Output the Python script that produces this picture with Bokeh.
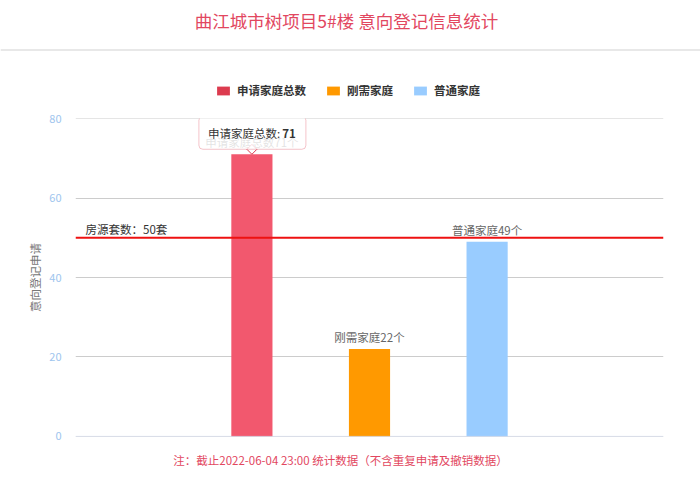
import math
from bokeh.plotting import figure
from bokeh.layouts import column, row
from bokeh.models import (Range1d, FixedTicker, Label, Span, BoxAnnotation, Legend,
                          LegendItem, ColumnDataSource)
from bokeh.core.properties import value
from bokeh.embed import file_html
from bokeh.resources import INLINE

# ---------------- data ----------------
title_text = "曲江城市树项目5#楼 意向登记信息统计"
note_text = "注：截止2022-06-04 23:00 统计数据（不含重复申请及撤销数据）"
y_title = "意向登记申请"
categories = ["申请家庭总数", "刚需家庭", "普通家庭"]
counts = [71, 22, 49]
unit = "个"
slot_count = 5          # x slots; first and last slot are empty
y_ticks = [0, 20, 40, 60, 80]
supply = 50
supply_label = "房源套数：50套"
bar_colors = ["#f2586e", "#ff9900", "#99ccff"]
legend_colors = ["#dc3b4f", "#ff9900", "#99ccff"]

# ---------------- layout ----------------
W = 700
L, R, T, B = 75, 37, 10, 8
FH = 318
FW = W - L - R
MAIN_H = T + FH + B
TITLE_H, LEG_H = 51, 57
BOT_H = 484 - TITLE_H - LEG_H - MAIN_H
FONT = "Noto Sans CJK SC"
TITLE_COLOR = "#e2475f"


def blank_fig(h, left=L, right=R):
    # header/footer strips; their x range is expressed in page pixels
    f = figure(width=W, height=h, output_backend="svg", toolbar_location=None,
               x_range=Range1d(left, W - right), y_range=Range1d(h, 0),
               x_axis_type=None, y_axis_type=None,
               min_border_left=left, min_border_right=right,
               min_border_top=0, min_border_bottom=0)
    f.outline_line_color = None
    f.xgrid.visible = False
    f.ygrid.visible = False
    f.background_fill_color = "white"
    f.border_fill_color = "white"
    return f


# ---- title strip with full-width separator ----
ttl = blank_fig(TITLE_H, left=0, right=0)
ttl.add_layout(Label(x=346, y=20, text=title_text, text_align="center",
                     text_baseline="middle", text_font=FONT, text_font_size="17.5px",
                     text_color=TITLE_COLOR))
ttl.add_layout(Span(location=49.5, dimension="width", line_color="#e8e8e8", line_width=2))

# ---- legend strip ----
leg = blank_fig(LEG_H)
items = []
for c, col in zip(categories, legend_colors):
    r = leg.vbar(x=[L], top=[0], bottom=[0], width=0, fill_color=col, line_color=None)
    items.append(LegendItem(label=c, renderers=[r]))
legend = Legend(items=items, location=(215 - L, 10), orientation="horizontal",
                glyph_width=16, glyph_height=11, label_standoff=6, spacing=19,
                padding=0, margin=0, border_line_color=None, background_fill_alpha=0,
                label_text_font=FONT, label_text_font_size="11.5px",
                label_text_font_style="bold", label_text_color="#333333")
leg.add_layout(legend)

# ---- main chart ----
pad = 0.02
p = figure(width=W, height=MAIN_H, output_backend="svg", toolbar_location=None,
           x_range=Range1d(0, slot_count),
           y_range=Range1d(y_ticks[0] - pad, y_ticks[-1] + pad),
           min_border_left=L, min_border_right=R, min_border_top=T, min_border_bottom=B)
p.outline_line_color = None
p.background_fill_color = "white"
p.border_fill_color = "white"
p.xaxis.visible = False
p.xgrid.visible = False

p.yaxis.ticker = FixedTicker(ticks=y_ticks)
p.yaxis.axis_line_color = None
p.yaxis.major_tick_line_color = None
p.yaxis.minor_tick_line_color = None
p.yaxis.major_tick_out = 0
p.yaxis.major_label_standoff = 14
p.yaxis.major_label_text_color = "#9ec5ee"
p.yaxis.major_label_text_font_size = "11px"
p.yaxis.major_label_text_font = FONT
p.yaxis.axis_label = y_title
p.yaxis.axis_label_text_color = "#777777"
p.yaxis.axis_label_text_font_size = "11.5px"
p.yaxis.axis_label_text_font_style = "normal"
p.yaxis.axis_label_text_font = FONT
p.yaxis.axis_label_standoff = 3
p.ygrid.ticker = FixedTicker(ticks=y_ticks)
p.ygrid.grid_line_color = "#cccccc"
p.add_layout(Span(location=y_ticks[0], dimension="width", line_color="#ccd6eb", line_width=1))

# bars
xs = [i + 1.5 for i in range(len(categories))]
labels = [c + str(v) + unit for c, v in zip(categories, counts)]
src = ColumnDataSource(dict(x=xs, top=counts, color=bar_colors, label=labels))
p.vbar(x="x", top="top", width=0.35, fill_color="color", line_color=None, source=src)
p.text(x="x", y="top", text="label", source=src, text_align="center",
       text_baseline="bottom", y_offset=-4, text_font=value(FONT),
       text_font_size="11.5px", text_color="#666666")

# supply mark line
p.add_layout(Span(location=supply, dimension="width", line_color="#ee1111", line_width=2))
p.add_layout(Label(x=0, y=supply, x_offset=10, y_offset=9, text=supply_label,
                   text_baseline="middle", text_align="left", text_font=FONT,
                   text_font_size="11.5px", text_color="#333333"))

# tooltip on first bar
sx_per = FW / slot_count
sy_per = FH / (y_ticks[-1] - y_ticks[0])
cx = xs[0] * sx_per
vy = counts[0] * sy_per
p.scatter(x=[xs[0]], y=[counts[0] + 5 / sy_per], marker="square", angle=math.pi / 4,
          size=7, fill_color="white", line_color="#dc3b4f", line_width=1)
p.add_layout(BoxAnnotation(left=cx - 53, right=cx + 54, bottom=vy + 5, top=vy + 38,
                           left_units="screen", right_units="screen",
                           bottom_units="screen", top_units="screen",
                           fill_color="white", fill_alpha=0.82,
                           line_color="#dc3b4f", line_width=1, border_radius=4))
p.add_layout(Label(x=cx - 44, y=vy + 21, x_units="screen", y_units="screen",
                   text=categories[0] + ": ", text_baseline="middle", text_align="left",
                   text_font=FONT, text_font_size="11.5px", text_color="#333333"))
p.add_layout(Label(x=cx + 44, y=vy + 21, x_units="screen", y_units="screen",
                   text=str(counts[0]), text_baseline="middle", text_align="right",
                   text_font=FONT, text_font_size="11.5px", text_font_style="bold",
                   text_color="#333333"))

# ---- footer note ----
bot = blank_fig(BOT_H)
bot.add_layout(Label(x=340, y=459 - (484 - BOT_H), text=note_text, text_align="center",
                     text_baseline="middle", text_font=FONT, text_font_size="11.5px",
                     text_color=TITLE_COLOR))

page = column(row(ttl), leg, p, bot, spacing=0)
open("out.html", "w").write(file_html(page, INLINE))
